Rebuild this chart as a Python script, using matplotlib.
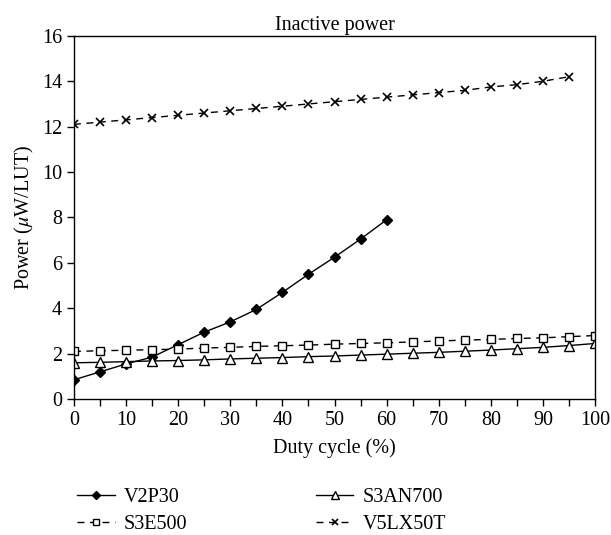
import matplotlib
matplotlib.use("Agg")
import matplotlib.pyplot as plt
from matplotlib.ticker import MultipleLocator

duty_v2p30 = [0, 5, 10, 15, 20, 25, 30, 35, 40, 45, 50, 55, 60]
v2p30 = [0.85, 1.2, 1.55, 1.85, 2.4, 2.95, 3.4, 3.95, 4.7, 5.5, 6.25, 7.05, 7.9]

duty_full = list(range(0, 101, 5))
s3an700 = [1.6, 1.62, 1.65, 1.68, 1.7, 1.73, 1.77, 1.8, 1.83, 1.87, 1.9,
           1.94, 1.98, 2.02, 2.06, 2.11, 2.16, 2.22, 2.28, 2.36, 2.45]
s3e500 = [2.1, 2.13, 2.15, 2.18, 2.2, 2.25, 2.28, 2.32, 2.35, 2.38, 2.42,
          2.45, 2.48, 2.52, 2.56, 2.6, 2.63, 2.67, 2.7, 2.75, 2.8]

duty_v5 = list(range(0, 96, 5))
v5lx50t = [12.1, 12.2, 12.3, 12.4, 12.5, 12.6, 12.7, 12.8, 12.9, 13.0,
           13.1, 13.2, 13.3, 13.4, 13.5, 13.6, 13.75, 13.85, 14.0, 14.2]

plt.rcParams["font.family"] = ["Liberation Serif", "DejaVu Serif"]
plt.rcParams["mathtext.fontset"] = "stix"
FS = 14.5
plt.rcParams["font.size"] = FS

fig = plt.figure(figsize=(6.11, 5.35), dpi=100)
ax = fig.add_axes([0.121, 0.254, 0.853, 0.679])

dash = (0, (5, 4))
ax.plot(duty_v2p30, v2p30, color="black", lw=1, marker="D", ms=5,
        mfc="black", mec="black", label="V2P30")
ax.plot(duty_full, s3an700, color="black", lw=1, marker="^", ms=7,
        mfc="white", mec="black", label="S3AN700")
ax.plot(duty_full, s3e500, color="black", lw=1, ls=dash, marker="s", ms=6,
        mfc="white", mec="black", label="S3E500")
ax.plot(duty_v5, v5lx50t, color="black", lw=1, ls=dash, marker="x", ms=6,
        mew=1.2, label="V5LX50T")

ax.set_xlim(0, 100)
ax.set_ylim(0, 16)
ax.xaxis.set_major_locator(MultipleLocator(10))
ax.xaxis.set_minor_locator(MultipleLocator(5))
ax.yaxis.set_major_locator(MultipleLocator(2))
ax.tick_params(which="both", direction="out", length=5, width=1,
               colors="black", labelsize=FS)
for s in ax.spines.values():
    s.set_linewidth(1)

ax.set_title("Inactive power", fontsize=FS, pad=4)
ax.set_xlabel("Duty cycle (%)", fontsize=FS, labelpad=6)
ax.set_ylabel(r"Power ($\mu$W/LUT)", fontsize=FS, labelpad=4)

handles, labels = ax.get_legend_handles_labels()
order = [0, 2, 1, 3]
fig.legend([handles[i] for i in order], [labels[i] for i in order],
           loc="upper left", bbox_to_anchor=(0.097, 0.122), ncol=2,
           frameon=False, fontsize=FS, columnspacing=6.4,
           handlelength=1.85, handletextpad=0.45, labelspacing=0.4,
           markerscale=0.8)

fig.savefig("out.png", dpi=100)
